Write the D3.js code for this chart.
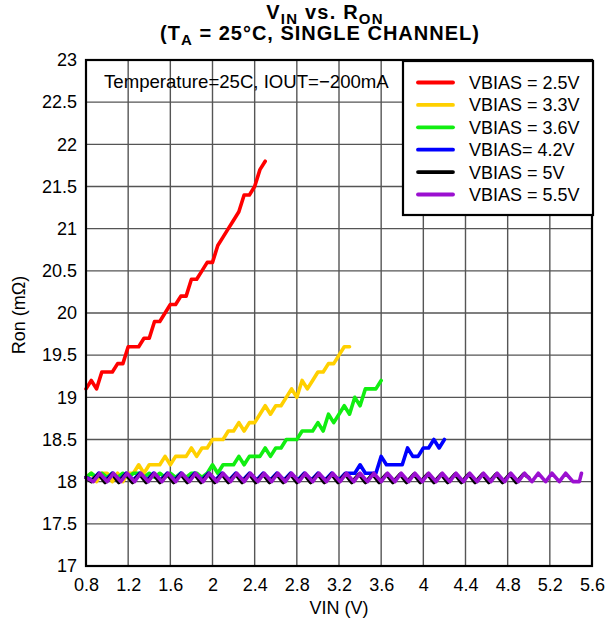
<!DOCTYPE html>
<html><head><meta charset="utf-8">
<script src="https://cdn.jsdelivr.net/npm/d3@7"></script>
<style>body{margin:0;background:#fff;} svg{display:block;font-family:"Liberation Sans",Arial,sans-serif;}</style>
</head><body>
<svg id="c" width="608" height="619"></svg>
<script>
// ---- data ----
const xTicks = [0.8,1.2,1.6,2,2.4,2.8,3.2,3.6,4,4.4,4.8,5.2,5.6];
const yTicks = [17,17.5,18,18.5,19,19.5,20,20.5,21,21.5,22,22.5,23];
const vinStep = [0.80,0.85,0.90,0.95,1.00,1.05,1.10,1.15,1.20,1.25,1.30,1.35,1.40,1.45,1.50,1.55,1.60,1.65,1.70,1.75,1.80,1.85,1.90,1.95,2.00,2.05,2.10,2.15,2.20,2.25,2.30,2.35,2.40,2.45,2.50,2.55,2.60,2.65,2.70,2.75,2.80,2.85,2.90,2.95,3.00,3.05,3.10,3.15,3.20,3.25,3.30,3.35,3.40,3.45,3.50,3.55,3.60];
const ron25 = [19.1,19.2,19.1,19.3,19.3,19.3,19.4,19.4,19.6,19.6,19.6,19.7,19.7,19.9,19.9,20.0,20.1,20.1,20.2,20.2,20.4,20.4,20.5,20.6,20.6,20.8,20.9,21.0,21.1,21.2,21.4,21.4,21.5,21.7,21.8];
const ron33 = [18.05,18.1,18.0,18.1,18.1,18.0,18.1,18.0,18.1,18.1,18.2,18.1,18.2,18.2,18.2,18.3,18.2,18.3,18.3,18.3,18.4,18.3,18.4,18.4,18.5,18.5,18.5,18.6,18.6,18.7,18.6,18.7,18.7,18.8,18.9,18.8,18.9,18.9,19.0,19.1,19.0,19.2,19.1,19.2,19.3,19.3,19.4,19.4,19.5,19.6,19.6];
const ron36 = [18.05,18.1,18.05,18.1,18.05,18.1,18.05,18.1,18.05,18.1,18.1,18.05,18.1,18.05,18.1,18.05,18.1,18.05,18.1,18.05,18.1,18.1,18.05,18.1,18.2,18.1,18.2,18.2,18.2,18.3,18.2,18.3,18.3,18.3,18.4,18.3,18.4,18.4,18.5,18.5,18.5,18.6,18.6,18.6,18.7,18.6,18.8,18.7,18.8,18.9,18.8,19.0,18.9,19.1,19.1,19.1,19.2];
const vin42 = [0.80,0.86,0.92,0.99,1.05,1.12,1.18,1.25,1.31,1.38,1.44,1.51,1.57,1.64,1.70,1.77,1.83,1.90,1.96,2.03,2.09,2.16,2.22,2.29,2.35,2.42,2.48,2.55,2.61,2.68,2.74,2.81,2.87,2.94,3.00,3.07,3.13,3.20,3.26,3.30,3.35,3.40,3.45,3.50,3.55,3.60,3.65,3.70,3.75,3.80,3.85,3.90,3.95,4.00,4.05,4.10,4.15,4.20];
const ron42 = [18.05,18.02,18.1,18.02,18.1,18.02,18.1,18.02,18.1,18.02,18.1,18.02,18.1,18.02,18.1,18.02,18.1,18.02,18.1,18.02,18.1,18.02,18.1,18.02,18.1,18.02,18.1,18.02,18.1,18.02,18.1,18.02,18.1,18.02,18.1,18.02,18.1,18.02,18.1,18.1,18.1,18.2,18.1,18.1,18.1,18.3,18.2,18.2,18.2,18.2,18.4,18.3,18.3,18.4,18.4,18.5,18.4,18.5];
const vin50 = [0.80,0.85,0.92,0.98,1.05,1.11,1.18,1.24,1.31,1.37,1.44,1.50,1.57,1.63,1.70,1.76,1.83,1.89,1.96,2.02,2.09,2.15,2.22,2.28,2.35,2.41,2.48,2.54,2.61,2.67,2.74,2.80,2.87,2.93,3.00,3.06,3.13,3.19,3.26,3.32,3.39,3.45,3.52,3.58,3.65,3.71,3.78,3.84,3.91,3.97,4.04,4.10,4.17,4.23,4.30,4.36,4.43,4.49,4.56,4.62,4.69,4.75,4.82,4.88,4.95,5.00];
const ron50 = [18.05,18.0,18.09,17.99,18.09,17.99,18.09,17.99,18.09,17.99,18.09,17.99,18.09,17.99,18.09,17.99,18.09,17.99,18.09,17.99,18.09,17.99,18.09,17.99,18.09,17.99,18.09,17.99,18.09,17.99,18.09,17.99,18.09,17.99,18.09,17.99,18.09,17.99,18.09,17.99,18.09,17.99,18.09,17.99,18.09,17.99,18.09,17.99,18.09,17.99,18.09,17.99,18.09,17.99,18.09,17.99,18.09,17.99,18.09,17.99,18.09,17.99,18.09,17.99,18.09,18.05];
const vin55 = [0.80,0.87,0.93,1.00,1.06,1.13,1.19,1.26,1.32,1.39,1.45,1.52,1.58,1.65,1.71,1.78,1.84,1.91,1.97,2.04,2.10,2.17,2.23,2.30,2.36,2.43,2.49,2.56,2.62,2.69,2.75,2.82,2.88,2.95,3.01,3.08,3.14,3.21,3.27,3.34,3.40,3.47,3.53,3.60,3.66,3.73,3.79,3.86,3.92,3.99,4.05,4.12,4.18,4.25,4.31,4.38,4.44,4.51,4.57,4.64,4.70,4.77,4.83,4.90,4.96,5.03,5.09,5.16,5.22,5.29,5.35,5.42,5.48,5.50];
const ron55 = [18.05,18.0,18.1,18.0,18.1,18.0,18.1,18.0,18.1,18.0,18.1,18.0,18.1,18.0,18.1,18.0,18.1,18.0,18.1,18.0,18.1,18.0,18.1,18.0,18.1,18.0,18.1,18.0,18.1,18.0,18.1,18.0,18.1,18.0,18.1,18.0,18.1,18.0,18.1,18.0,18.1,18.0,18.1,18.0,18.1,18.0,18.1,18.0,18.1,18.0,18.1,18.0,18.1,18.0,18.1,18.0,18.1,18.0,18.1,18.0,18.1,18.0,18.1,18.0,18.1,18.0,18.1,18.0,18.1,18.0,18.1,18.0,18.0,18.1];
const seriesNames = ["VBIAS = 2.5V","VBIAS = 3.3V","VBIAS = 3.6V","VBIAS= 4.2V","VBIAS = 5V","VBIAS = 5.5V"];
const seriesColors = ["#ff0000","#ffd000","#11ee11","#0000ff","#000000","#9b10d0"];

const series = [
  {x: vinStep.slice(0, ron25.length), y: ron25},
  {x: vinStep.slice(0, ron33.length), y: ron33},
  {x: vinStep.slice(0, ron36.length), y: ron36},
  {x: vin42, y: ron42},
  {x: vin50, y: ron50},
  {x: vin55, y: ron55}
];

// ---- layout ----
const L = 86, R = 592, T = 60, B = 566;
const svg = d3.select("#c");
const x = d3.scaleLinear().domain([0.8, 5.6]).range([L, R]);
const y = d3.scaleLinear().domain([17, 23]).range([B, T]);

// grid
svg.append("g").selectAll("line").data(xTicks.slice(1, -1)).join("line")
  .attr("x1", d => x(d)).attr("x2", d => x(d)).attr("y1", T).attr("y2", B)
  .attr("stroke", "#555").attr("stroke-width", 1.4);
svg.append("g").selectAll("line").data(yTicks.slice(1, -1)).join("line")
  .attr("y1", d => y(d)).attr("y2", d => y(d)).attr("x1", L).attr("x2", R)
  .attr("stroke", "#555").attr("stroke-width", 1.4);

// axes labels via d3 axes (no tick lines)
const xa = svg.append("g").attr("transform", `translate(0,${B})`)
  .call(d3.axisBottom(x).tickValues(xTicks).tickSize(0).tickPadding(12).tickFormat(d => String(d)));
xa.select(".domain").remove();
xa.selectAll("text").attr("font-size", 18).attr("font-family", "Liberation Sans, Arial").attr("fill", "#000");
const ya = svg.append("g").attr("transform", `translate(${L},0)`)
  .call(d3.axisLeft(y).tickValues(yTicks).tickSize(0).tickPadding(9).tickFormat(d => String(d)));
ya.select(".domain").remove();
ya.selectAll("text").attr("font-size", 18).attr("font-family", "Liberation Sans, Arial").attr("fill", "#000");

// lines
const line = d3.line().x(d => x(d[0])).y(d => y(d[1]));
series.forEach((s, i) => {
  svg.append("path").datum(s.x.map((v, j) => [v, s.y[j]]))
    .attr("d", line).attr("fill", "none").attr("stroke", seriesColors[i])
    .attr("stroke-width", 3.6).attr("stroke-linejoin", "round").attr("stroke-linecap", "round");
});

// frame
svg.append("rect").attr("x", L).attr("y", T).attr("width", R - L).attr("height", B - T)
  .attr("fill", "none").attr("stroke", "#000").attr("stroke-width", 2.2);

// annotation
svg.append("text").attr("x", 104).attr("y", 88).attr("font-size", 18.6).text("Temperature=25C, IOUT=\u2212200mA");

// legend
const lg = svg.append("g");
lg.append("rect").attr("x", 403).attr("y", 61).attr("width", R - 403 + 1).attr("height", 154)
  .attr("fill", "#fff").attr("stroke", "#000").attr("stroke-width", 2.2);
seriesNames.forEach((n, i) => {
  const yy = 82.5 + i * 22.4;
  lg.append("line").attr("x1", 418).attr("x2", 453).attr("y1", yy).attr("y2", yy)
    .attr("stroke", seriesColors[i]).attr("stroke-width", 3.8).attr("stroke-linecap", "round");
  lg.append("text").attr("x", 469).attr("y", yy + 6.5).attr("font-size", 18).text(n);
});

// axis titles
svg.append("text").attr("x", (L + R) / 2).attr("y", 614).attr("text-anchor", "middle").attr("font-size", 18).text("VIN (V)");
svg.append("text").attr("transform", "translate(25,315) rotate(-90)").attr("text-anchor", "middle").attr("font-size", 18).text("Ron (m\u03A9)");

// title
const t1 = svg.append("text").attr("x", 325).attr("y", 19).attr("text-anchor", "middle").attr("font-size", 20).attr("font-weight", "bold").attr("letter-spacing", 1.2);
t1.append("tspan").text("V");
t1.append("tspan").attr("dy", 5).attr("font-size", 15).text("IN");
t1.append("tspan").attr("dy", -5).text(" vs. R");
t1.append("tspan").attr("dy", 5).attr("font-size", 15).text("ON");
const t2 = svg.append("text").attr("x", 320).attr("y", 40).attr("text-anchor", "middle").attr("font-size", 20).attr("font-weight", "bold").attr("letter-spacing", 1);
t2.append("tspan").text("(T");
t2.append("tspan").attr("dy", 5).attr("font-size", 15).text("A");
t2.append("tspan").attr("dy", -5).text(" = 25\u00B0C, SINGLE CHANNEL)");
</script>
</body></html>
